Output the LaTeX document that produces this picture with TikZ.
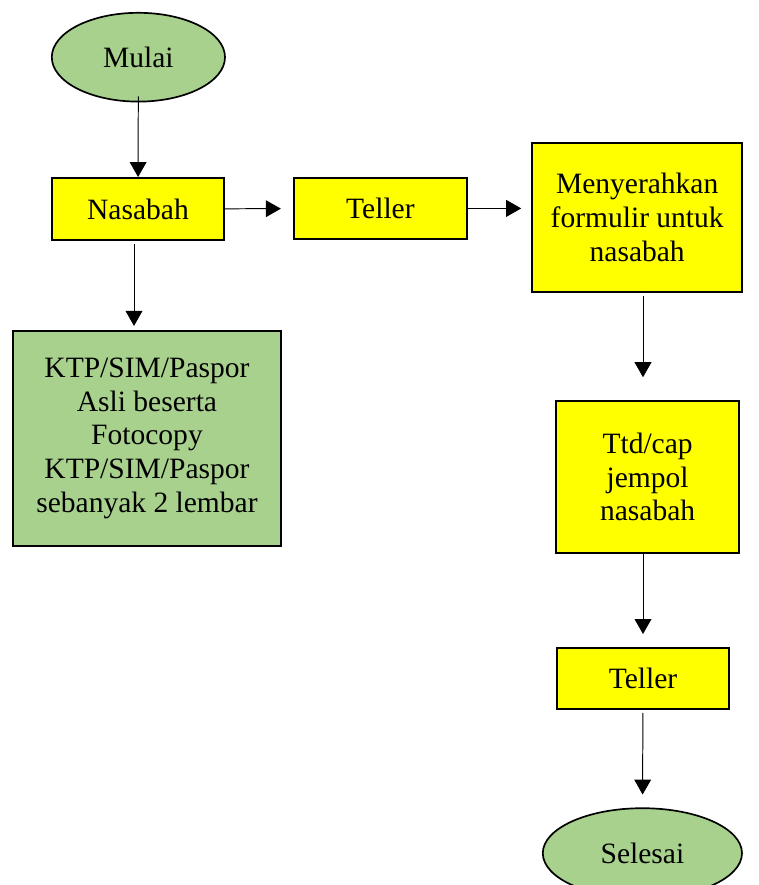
\documentclass[tikz,border=0pt]{standalone}
\usepackage{fontspec}
\setmainfont{Liberation Serif}
\definecolor{boxyellow}{RGB}{255, 255, 0}
\definecolor{termgreen}{RGB}{169, 209, 142}
\usepackage{tikz}
\usetikzlibrary{shapes.geometric, arrows.meta, positioning, calc}

\tikzset{
  procbox/.style={draw=black, line width=1.4pt, fill=boxyellow, align=center, inner sep=0pt, font=\fontsize{21pt}{24pt}\selectfont},
  docbox/.style={procbox, fill=termgreen},
  termnode/.style={draw=black, line width=1.2pt, fill=termgreen, ellipse, inner sep=0pt, font=\fontsize{21pt}{24pt}\selectfont},
  arr/.style={-{Triangle[length=0.375cm, width=0.42cm]}, line width=0.7pt}
}

\begin{document}
\begin{tikzpicture}
  \useasboundingbox (0,0) rectangle (18.95,-22.125);

  % Mulai
  \node[termnode, minimum width=4.33cm, minimum height=2.22cm] (mulai) at (3.46, -1.43) {Mulai};

  % Nasabah
  \node[procbox, minimum width=4.3cm, minimum height=1.55cm] (nasabah) at (3.45, -5.225) {Nasabah};

  % Teller
  \node[procbox, minimum width=4.33cm, minimum height=1.53cm] (teller) at (9.51, -5.21) {Teller};

  % Menyerahkan formulir
  \node[procbox, minimum width=5.25cm, minimum height=3.72cm] (formulir) at (15.93, -5.44) {Menyerahkan\\formulir untuk\\nasabah};

  % KTP/SIM/Paspor
  \node[docbox, minimum width=6.7cm, minimum height=5.375cm] (ktp) at (3.675, -10.96) {KTP/SIM/Paspor\\Asli beserta\\Fotocopy\\KTP/SIM/Paspor\\sebanyak 2 lembar};

  % Ttd/cap jempol
  \node[procbox, minimum width=4.58cm, minimum height=3.8cm] (ttd) at (16.19, -11.925) {Ttd/cap\\jempol\\nasabah};

  % Teller
  \node[procbox, minimum width=4.3cm, minimum height=1.53cm] (tellerdua) at (16.075, -16.96) {Teller};

  % Selesai
  \node[termnode, minimum width=4.98cm, minimum height=2.25cm] (selesai) at (16.06, -21.33) {Selesai};

  % arrows
  \draw[arr, shorten <=-0.15cm] (mulai) -- (nasabah);
  \draw[arr, shorten >=0.3cm] (nasabah) -- (teller);
  \draw[arr, shorten >=0.25cm] (teller) -- (teller -| formulir.west);
  \draw[arr, shorten <=0.07cm, shorten >=0.1cm] ([xshift=-0.1cm]nasabah.south) -- ([xshift=-0.1cm]nasabah.south |- ktp.north);
  \draw[arr, shorten <=0.07cm, shorten >=0.57cm] (formulir.south -| tellerdua) -- (ttd.north -| tellerdua);
  \draw[arr, shorten >=0.32cm] (ttd.south -| tellerdua) -- (tellerdua.north);
  \draw[arr, shorten <=0.07cm, shorten >=0.32cm] (tellerdua) -- (selesai);
\end{tikzpicture}
\end{document}
